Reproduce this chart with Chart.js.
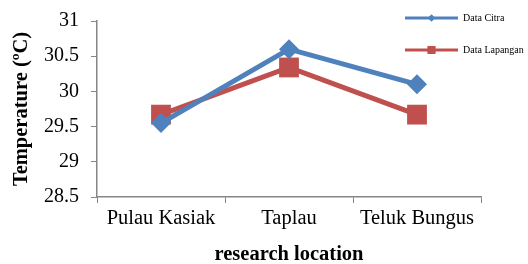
<!DOCTYPE html>
<html><head><meta charset="utf-8">
<script src="https://cdn.jsdelivr.net/npm/chart.js@4"></script>
<style>html,body{margin:0;padding:0;background:#fff}#wrap{width:528px;height:264px;position:relative}</style>
</head><body><div id="wrap"><canvas id="c" width="528" height="264"></canvas></div>
<script>
const categories = ["Pulau Kasiak", "Taplau", "Teluk Bungus"];
const dataCitra = [29.55, 30.6, 30.1];
const dataLapangan = [29.67, 30.34, 29.67];
const seriesNames = ["Data Citra", "Data Lapangan"];
const yTicks = [28.5, 29, 29.5, 30, 30.5, 31];

const BLUE = "#4F81BD", RED = "#C0504D", AXIS = "#868686";
const FONT = "'Liberation Serif', 'Times New Roman', serif";

const legendPlugin = {
  id: 'customLegend',
  afterDraw(chart) {
    const ctx = chart.ctx;
    const items = [
      {name: seriesNames[0], color: BLUE, style: 'rectRot', r: 3.5, y: 18},
      {name: seriesNames[1], color: RED, style: 'rect', r: 5.5, y: 50}
    ];
    ctx.save();
    items.forEach(it => {
      ctx.strokeStyle = it.color; ctx.lineWidth = 3;
      ctx.beginPath(); ctx.moveTo(405, it.y); ctx.lineTo(458, it.y); ctx.stroke();
      ctx.fillStyle = it.color;
      Chart.helpers.drawPoint(ctx, {pointStyle: it.style, radius: it.r, borderWidth: 0}, 431.5, it.y);
      ctx.fill();
      ctx.fillStyle = '#000'; ctx.font = "10px " + FONT; ctx.textBaseline = 'middle';
      ctx.fillText(it.name, 463, it.y);
    });
    ctx.restore();
  }
};

new Chart(document.getElementById('c'), {
  type: 'line',
  data: {
    labels: categories,
    datasets: [
      {label: seriesNames[0], data: dataCitra, borderColor: BLUE, backgroundColor: BLUE, borderWidth: 5,
       pointStyle: 'rectRot', pointRadius: 10, pointBorderWidth: 0, pointBackgroundColor: BLUE, tension: 0},
      {label: seriesNames[1], data: dataLapangan, borderColor: RED, backgroundColor: RED, borderWidth: 5,
       pointStyle: 'rect', pointRadius: 14, pointBorderWidth: 0, pointBackgroundColor: RED, tension: 0}
    ]
  },
  options: {
    responsive: false, animation: false,
    layout: {padding: {top: 21, right: 47, left: 0, bottom: 0}},
    plugins: {legend: {display: false}, tooltip: {enabled: false}},
    scales: {
      x: {
        offset: true,
        grid: {offset: true, drawOnChartArea: false, tickLength: 6, color: AXIS},
        border: {color: AXIS, width: 1.5},
        ticks: {color: '#000', font: {family: FONT, size: 20.5}, padding: 3, maxRotation: 0},
        title: {display: true, text: 'research location', color: '#000', font: {family: FONT, size: 20.5, weight: 'bold'}, padding: {top: 0, bottom: -3}},
        afterFit(s) { s.height = 67; s.paddingLeft = 0; s.paddingRight = 0; }
      },
      y: {
        min: yTicks[0], max: yTicks[yTicks.length - 1],
        afterBuildTicks(s) { s.ticks = yTicks.map(v => ({value: v})); },
        grid: {drawOnChartArea: false, tickLength: 6, color: AXIS},
        border: {color: AXIS, width: 1.5},
        ticks: {color: '#000', font: {family: FONT, size: 20}, padding: 12, callback: v => String(v)},
        title: {display: true, text: 'Temperature (ºC)', color: '#000', font: {family: FONT, size: 20.5, weight: 'bold'}, padding: {top: 9, bottom: 0}},
        afterFit(s) { s.width = 97; s.paddingTop = 0; s.paddingBottom = 0; }
      }
    }
  },
  plugins: [legendPlugin]
});
</script></body></html>
